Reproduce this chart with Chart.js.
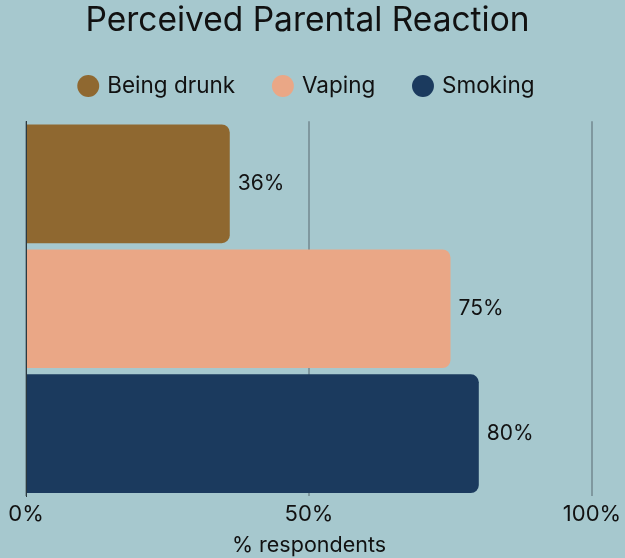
<!DOCTYPE html>
<html>
<head>
<meta charset="utf-8">
<script src="https://cdn.jsdelivr.net/npm/chart.js@4"></script>
<style>
  html, body { margin: 0; padding: 0; background: #a6c8ce; }
  #wrap { width: 625px; height: 558px; position: relative; }
</style>
</head>
<body>
<div id="wrap"><canvas id="reactionChart"></canvas></div>
<script>
const seriesNames = ['Being drunk', 'Vaping', 'Smoking'];
const seriesValues = [36, 75, 80];
const seriesColors = ['#8f6830', '#eaa786', '#1b3a5e'];
const tickValues = [0, 50, 100];

const fontFamily = 'Inter, "Open Sans", sans-serif';

// draws "36%" etc. just past the end of each bar
const valueLabels = {
    id: 'valueLabels',
    afterDatasetsDraw(chart) {
        const ctx = chart.ctx;
        ctx.save();
        ctx.font = '21px ' + fontFamily;
        ctx.fillStyle = '#111';
        ctx.textBaseline = 'middle';
        chart.data.datasets.forEach((ds, i) => {
            chart.getDatasetMeta(i).data.forEach((bar, j) => {
                ctx.fillText(ds.data[j] + '%', bar.x + 8, bar.y);
            });
        });
        ctx.restore();
    }
};

// a bit more room under the legend
const legendGap = {
    id: 'legendGap',
    beforeInit(chart) {
        const fit = chart.legend.fit;
        chart.legend.fit = function () {
            fit.bind(chart.legend)();
            this.height += 14;
        };
    }
};

const datasets = seriesNames.map((name, i) => ({
    label: name,
    data: [seriesValues[i]],
    backgroundColor: seriesColors[i],
    borderRadius: 8,
    borderSkipped: 'start',
    categoryPercentage: 1,
    barPercentage: 0.95
}));

const ctx = document.getElementById('reactionChart').getContext('2d');
new Chart(ctx, {
    type: 'bar',
    data: {
        labels: [''],
        datasets: datasets
    },
    options: {
        indexAxis: 'y',
        responsive: true,
        maintainAspectRatio: false,
        animation: false,
        layout: { padding: { left: 0, right: 10, bottom: 4 } },
        plugins: {
            title: {
                display: true,
                text: 'Perceived Parental Reaction',
                color: '#111',
                font: { family: fontFamily, size: 33.5, weight: 'normal', lineHeight: 0.8 },
                padding: { top: 8, bottom: 0 }
            },
            legend: {
                labels: {
                    usePointStyle: true,
                    pointStyle: 'circle',
                    boxWidth: 15.5,
                    boxHeight: 15.5,
                    padding: 40,
                    color: '#111',
                    font: { family: fontFamily, size: 22.5 }
                }
            },
            tooltip: { enabled: false }
        },
        scales: {
            x: {
                min: 0,
                max: 100,
                afterBuildTicks: scale => {
                    scale.ticks = tickValues.map(v => ({ value: v }));
                },
                afterFit: scale => {
                    scale.paddingLeft = 26;
                    scale.paddingRight = 33;
                },
                ticks: {
                    color: '#111',
                    padding: 5,
                    font: { family: fontFamily, size: 22 },
                    callback: v => v + '%'
                },
                grid: {
                    color: '#7f989f',
                    lineWidth: 2,
                    drawTicks: false
                },
                border: { display: false },
                title: {
                    display: true,
                    text: '% respondents',
                    color: '#111',
                    font: { family: fontFamily, size: 21.5 },
                    padding: { top: 0, bottom: -4.4 }
                }
            },
            y: {
                ticks: { display: false },
                grid: { display: false },
                border: { display: true, color: '#2b3a40', width: 1 },
                afterFit: scale => { scale.width = 0; }
            }
        }
    },
    plugins: [valueLabels, legendGap]
});
</script>
</body>
</html>
